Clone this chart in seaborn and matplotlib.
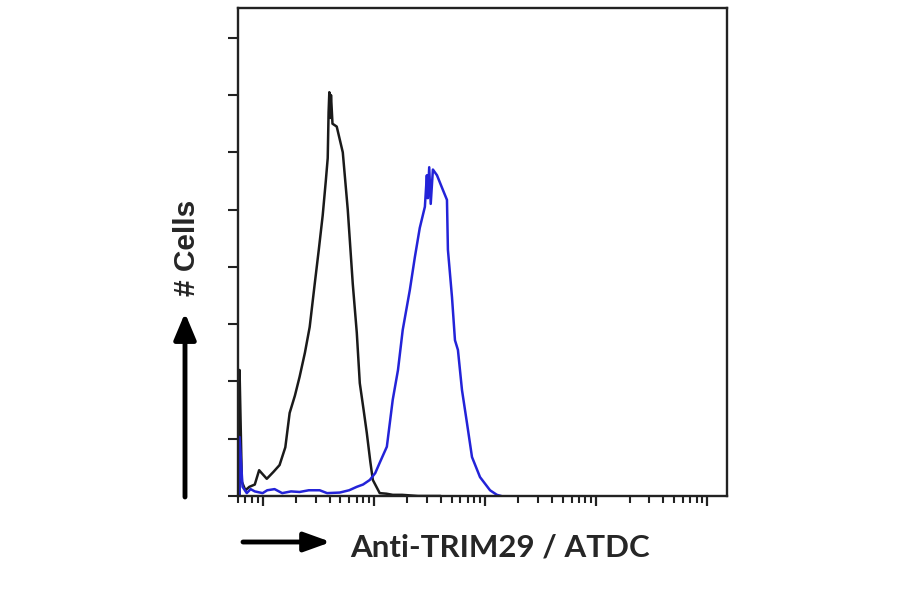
"""
Flow cytometry histogram: isotype control vs Anti-TRIM29 / ATDC
"""

import numpy as np
import pandas as pd
import matplotlib
matplotlib.use("Agg")
import matplotlib.pyplot as plt
from matplotlib.ticker import MultipleLocator, LogLocator, NullFormatter
import seaborn as sns


# Data (intensity on log axis, counts in tick units)

control_intensity = [0.62, 0.62, 0.65, 0.70, 0.76, 0.85, 0.93, 0.98, 1.09, 1.25,
                     1.42, 1.60, 1.75, 1.95, 2.15, 2.40, 2.65, 2.94, 3.20, 3.47,
                     3.70, 3.85, 3.92, 3.98, 4.05, 4.12, 4.25, 4.64, 5.26, 5.83,
                     6.47, 7.03, 7.48, 8.10, 8.65, 9.30, 9.80, 11.3, 13.0, 14.8,
                     18.0, 25.0, 40.0]
control_counts = [0.0, 2.2, 0.25, 0.10, 0.16, 0.20, 0.45, 0.40, 0.30, 0.42,
                  0.54, 0.85, 1.45, 1.75, 2.08, 2.50, 2.95, 3.70, 4.30, 4.90,
                  5.50, 5.90, 6.70, 7.05, 6.60, 7.00, 6.50, 6.45, 6.00, 5.00,
                  3.70, 2.85, 1.97, 1.50, 1.10, 0.60, 0.28, 0.05, 0.04, 0.02,
                  0.02, 0.0, 0.0]

trim29_intensity = [0.62, 0.62, 0.66, 0.72, 0.78, 0.85, 1.00, 1.10, 1.28, 1.50,
                    1.80, 2.15, 2.60, 3.26, 3.80, 4.94, 6.00, 7.03, 8.00, 9.20,
                    10.3, 11.3, 13.1, 14.8, 16.5, 18.2, 21.1, 23.4, 25.9, 28.8,
                    30.0, 30.6, 31.5, 32.5, 34.0, 37.0, 41.9, 45.5, 46.4, 50.5,
                    53.7, 57.1, 62.1, 68.9, 76.4, 90.2, 111.0, 128.0, 140.0]
trim29_counts = [0.0, 1.03, 0.16, 0.05, 0.12, 0.08, 0.05, 0.10, 0.12, 0.05,
                 0.08, 0.07, 0.10, 0.10, 0.05, 0.06, 0.10, 0.16, 0.20, 0.28,
                 0.40, 0.58, 0.86, 1.68, 2.20, 2.90, 3.60, 4.17, 4.68, 5.05,
                 5.60, 5.20, 5.74, 5.10, 5.70, 5.60, 5.34, 5.17, 4.30, 3.47,
                 2.72, 2.55, 1.85, 1.27, 0.68, 0.33, 0.10, 0.02, 0.0]

sample_names = ["Isotype control", "Anti-TRIM29 / ATDC"]
sample_colors = ["#1a1a1a", "#2323d8"]

x_label = "Anti-TRIM29 / ATDC"
y_label = "# Cells"


def build_frame():
    frames = []
    for name, xs, ys in [(sample_names[0], control_intensity, control_counts),
                         (sample_names[1], trim29_intensity, trim29_counts)]:
        frames.append(pd.DataFrame({"intensity": xs, "counts": ys, "sample": name}))
    return pd.concat(frames, ignore_index=True)


def main():
    sns.set_theme(style="ticks")
    plt.rcParams["font.family"] = ["Liberation Sans", "DejaVu Sans"]

    df = build_frame()

    fig = plt.figure(figsize=(9, 5.94), dpi=100)
    ax = fig.add_axes([0.2644, 0.165, 0.5433, 0.8215])

    sns.lineplot(data=df, x="intensity", y="counts", hue="sample",
                 palette=dict(zip(sample_names, sample_colors)),
                 sort=False, estimator=None, lw=1.8, legend=False, ax=ax)

    ax.set_xscale("log")
    ax.set_xlim(0.6, 15000)
    ax.set_ylim(0, 8.52)

    ax.yaxis.set_major_locator(MultipleLocator(1))
    ax.xaxis.set_major_locator(LogLocator(base=10, numticks=10))
    ax.xaxis.set_minor_locator(LogLocator(base=10, subs=np.arange(2, 10), numticks=10))
    ax.xaxis.set_major_formatter(NullFormatter())
    ax.xaxis.set_minor_formatter(NullFormatter())
    ax.yaxis.set_major_formatter(NullFormatter())
    ax.set_xlabel("")
    ax.set_ylabel("")

    for side in ["left", "right", "top", "bottom"]:
        ax.spines[side].set_visible(True)
        ax.spines[side].set_linewidth(1.7)
        ax.spines[side].set_color("#222222")

    ax.tick_params(axis="y", which="major", direction="out", length=7.5, width=1.5,
                   color="#222222")
    ax.tick_params(axis="x", which="major", direction="out", length=7.0, width=1.6,
                   color="#222222")
    ax.tick_params(axis="x", which="minor", direction="out", length=5.0, width=1.5,
                   color="#222222")

    # Axis arrows and labels (figure pixel coords, origin bottom-left)
    y_arrow = dict(arrowstyle="-|>,head_length=1.0,head_width=0.42", lw=3.5,
                   color="black", shrinkA=0, shrinkB=0, mutation_scale=16)
    x_arrow = dict(arrowstyle="-|>,head_length=1.0,head_width=0.36", lw=3.5,
                   color="black", shrinkA=0, shrinkB=0, mutation_scale=16)
    ax.annotate("", xy=(185, 281), xytext=(185, 97), xycoords="figure pixels",
                textcoords="figure pixels", arrowprops=y_arrow)
    ax.annotate("", xy=(331, 52), xytext=(243, 52), xycoords="figure pixels",
                textcoords="figure pixels", arrowprops=x_arrow)

    fig.text(187 / 900, 346 / 594, y_label, rotation=90, ha="center", va="center",
             fontsize=21.5, fontweight="bold", family=["Liberation Sans", "DejaVu Sans"])
    fig.text(350 / 900, 47 / 594, x_label, ha="left", va="center",
             fontsize=22.5, fontweight="bold", family=["Lato", "DejaVu Sans"])

    fig.savefig("out.png", dpi=100, facecolor="white")
    plt.close(fig)


if __name__ == "__main__":
    main()
